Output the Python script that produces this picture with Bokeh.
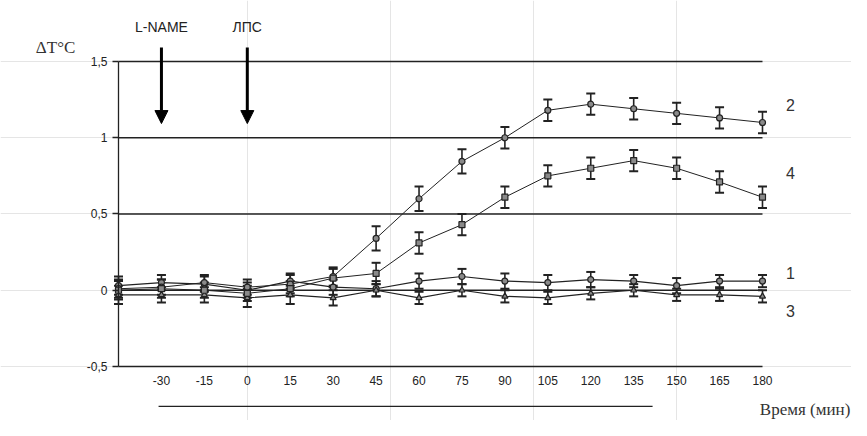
from bokeh.plotting import figure
from bokeh.models import (LinearAxis, FixedTicker, Range1d, Whisker, ColumnDataSource,
                          Arrow, NormalHead, TeeHead, CustomJSTickFormatter)
from bokeh.embed import file_html
from bokeh.resources import INLINE
from bokeh.core.properties import value

# ---------------- data ----------------
time_min = [-45, -30, -15, 0, 15, 30, 45, 60, 75, 90, 105, 120, 135, 150, 165, 180]
x_tick_labels = [-30, -15, 0, 15, 30, 45, 60, 75, 90, 105, 120, 135, 150, 165, 180]
y_ticks = [-0.5, 0, 0.5, 1, 1.5]

s1 = [0.03, 0.05, 0.04, 0.00, 0.06, 0.02, 0.01, 0.06, 0.09, 0.06, 0.05, 0.07, 0.06, 0.03, 0.06, 0.06]
s1_err = [0.06, 0.05, 0.05, 0.05, 0.05, 0.05, 0.05, 0.05, 0.05, 0.05, 0.05, 0.05, 0.04, 0.05, 0.04, 0.04]
s2 = [0.01, 0.02, 0.05, 0.02, 0.04, 0.09, 0.34, 0.60, 0.845, 1.00, 1.18, 1.22, 1.19, 1.16, 1.13, 1.10]
s2_err = [0.06, 0.05, 0.05, 0.05, 0.06, 0.06, 0.08, 0.08, 0.08, 0.07, 0.07, 0.07, 0.07, 0.07, 0.07, 0.07]
s3 = [-0.03, -0.03, -0.03, -0.05, -0.03, -0.05, 0.00, -0.05, 0.00, -0.04, -0.05, -0.02, 0.00, -0.03, -0.03, -0.04]
s3_err = [0.06, 0.05, 0.05, 0.06, 0.06, 0.05, 0.04, 0.04, 0.04, 0.04, 0.04, 0.04, 0.04, 0.04, 0.04, 0.04]
s4 = [0.00, 0.01, 0.00, -0.02, 0.01, 0.08, 0.11, 0.31, 0.43, 0.61, 0.75, 0.80, 0.85, 0.80, 0.71, 0.61]
s4_err = [0.06, 0.06, 0.05, 0.05, 0.05, 0.06, 0.07, 0.07, 0.07, 0.07, 0.07, 0.07, 0.07, 0.07, 0.07, 0.07]

series_names = ["1", "2", "3", "4"]
event_names = ["L-NAME", "ЛПС"]
event_times = [-30, 0]

# ---------------- layout / style ----------------
W, H = 851, 420
DARK = "#222222"
FILL = "#8a8a8a"

p = figure(width=W, height=H, x_range=Range1d(-86.23, 211.1), y_range=Range1d(-0.8541, 1.9),
           x_axis_location=None, y_axis_location=None, toolbar_location=None,
           output_backend="svg", min_border=0)
p.outline_line_color = None
p.background_fill_color = "white"
p.border_fill_color = "white"

comma_fmt = CustomJSTickFormatter(code="return tick.toString().replace('.', ',');")
plain_fmt = CustomJSTickFormatter(code="return tick.toString();")

yaxis = LinearAxis(fixed_location=-45, bounds=(-0.5, 1.5), ticker=FixedTicker(ticks=y_ticks),
                   formatter=comma_fmt, major_tick_out=6, major_tick_in=0,
                   minor_tick_out=0, minor_tick_in=0, axis_line_color=DARK, axis_line_width=1.3,
                   major_tick_line_color=DARK, major_tick_line_width=1.3,
                   major_label_standoff=5, major_label_text_font="Liberation Sans",
                   major_label_text_font_size="12px", major_label_text_color=DARK)
p.add_layout(yaxis, "left")

xaxis = LinearAxis(fixed_location=-0.5, bounds=(-45, 180), ticker=FixedTicker(ticks=x_tick_labels),
                   formatter=plain_fmt,
                   major_tick_out=0, major_tick_in=0, minor_tick_out=0, minor_tick_in=0,
                   axis_line_color=DARK, axis_line_width=1.3,
                   major_label_standoff=10, major_label_text_font="Liberation Sans",
                   major_label_text_font_size="12px", major_label_text_color=DARK)
p.add_layout(xaxis, "below")

# horizontal grid lines
grid_levels = [t for t in y_ticks if t > -0.5]
p.segment(x0=[time_min[0]] * len(grid_levels), x1=[time_min[-1]] * len(grid_levels),
          y0=grid_levels, y1=grid_levels, line_color=DARK, line_width=1.3)

# underline below the time axis labels
p.segment(x0=[-31], x1=[141.6], y0=[-0.762], y1=[-0.762], line_color=DARK, line_width=1.3)

series = [
    (s1, s1_err, "circle", 6, 1.2),
    (s2, s2_err, "circle", 6, 1.0),
    (s3, s3_err, "triangle", 6, 1.2),
    (s4, s4_err, "square", 6, 1.0),
]
for vals, errs, marker, msize, lw in series:
    src = ColumnDataSource(dict(x=time_min, y=vals,
                                lo=[v - e for v, e in zip(vals, errs)],
                                hi=[v + e for v, e in zip(vals, errs)]))
    p.line("x", "y", source=src, line_color=DARK, line_width=lw)
    w = Whisker(source=src, base="x", lower="lo", upper="hi", dimension="height",
                line_color=DARK, line_width=1.6,
                upper_head=TeeHead(size=9, line_color=DARK, line_width=2),
                lower_head=TeeHead(size=9, line_color=DARK, line_width=2))
    p.add_layout(w)
    p.scatter("x", "y", source=src, marker=marker, size=msize,
              fill_color=FILL, line_color=DARK, line_width=1.2)

# series labels at the right
label_y = [0.116, 1.218, -0.133, 0.772]
p.text(x=[189.8] * 4, y=label_y, text=series_names, text_font=value("Liberation Sans"),
       text_font_size="16px", text_color="#333333", text_align="center", text_baseline="middle")

# event arrows and names
for name, t in zip(event_names, event_times):
    p.add_layout(Arrow(x_start=t, y_start=1.592, x_end=t, y_end=1.093,
                       line_color="black", line_width=3,
                       end=NormalHead(size=13, fill_color="black", line_color="black", line_width=1)))
p.text(x=event_times, y=[1.723, 1.723], text=event_names, text_font=value("Liberation Sans"),
       text_font_size="14px", text_color=DARK, text_align="center", text_baseline="middle")

# axis titles
p.text(x=[-67], y=[1.592], text=["ΔT°C"], text_font=value("Liberation Serif"),
       text_font_size="17px", text_color="#333333", text_align="center", text_baseline="middle")
p.text(x=[210.7], y=[-0.8475], text=["Время (мин)"], text_font=value("Liberation Serif"),
       text_font_size="17px", text_color="#333333", text_align="right", text_baseline="bottom")

open("out.html", "w").write(file_html(p, INLINE))
